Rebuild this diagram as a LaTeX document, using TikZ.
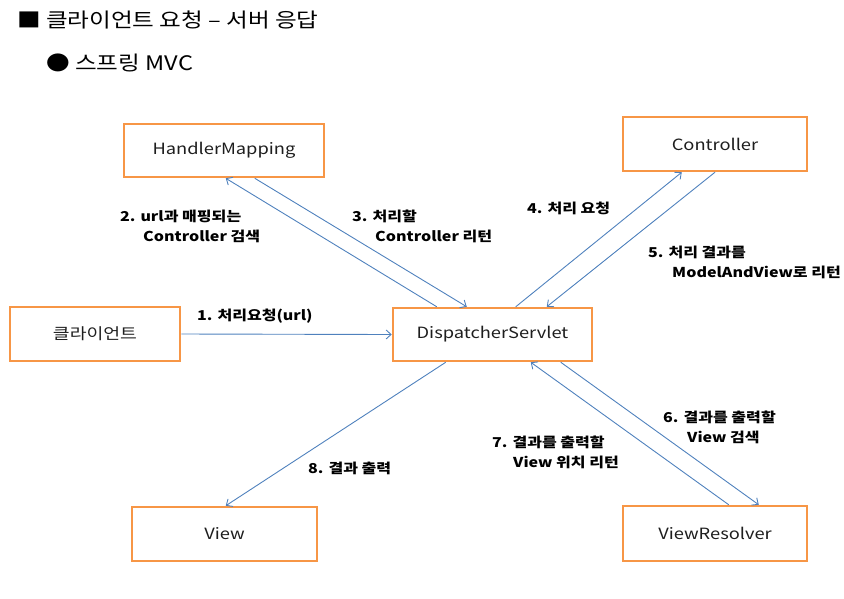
\documentclass[tikz,border=0pt]{standalone}
\usepackage{fontspec}
\setmainfont{Noto Sans CJK KR}[FakeStretch=1.18]
\usetikzlibrary{arrows.meta}
\definecolor{boxorange}{RGB}{247,150,70}
\definecolor{arrowblue}{RGB}{79,129,189}
\definecolor{boxtext}{RGB}{30,30,30}
\begin{document}
\begin{tikzpicture}[x=1pt,y=-1pt,
  box/.style={draw=boxorange, line width=2.5pt, fill=white, text=boxtext,
    font=\fontsize{15.5}{18}\selectfont, inner sep=0pt},
  flow/.style={draw=arrowblue, line width=0.9pt, -{Straight Barb[length=5pt,width=9pt]}},
  lbl/.style={font=\bfseries\fontsize{13.6}{20}\selectfont, align=left, inner sep=0pt, anchor=west},
  title/.style={font=\fontsize{20}{24}\selectfont, inner sep=0pt, anchor=west}]
\useasboundingbox (0,0) rectangle (844,598);

\node[title] (t1) at (17,20) {■ 클라이언트 요청 – 서버 응답};
\node[title] (t2) at (46,63) {● 스프링 MVC};

\node[box, minimum width=200pt, minimum height=53pt] (hm) at (224,150.5) {HandlerMapping};
\node[box, minimum width=184pt, minimum height=54pt] (ctrl) at (715,144) {Controller};
\node[box, minimum width=170pt, minimum height=54pt] (cl) at (95,334) {클라이언트};
\node[box, minimum width=199pt, minimum height=53pt] (ds) at (492.5,334.5) {DispatcherServlet};
\node[box, minimum width=185pt, minimum height=54pt] (view) at (224.5,534) {View};
\node[box, minimum width=184pt, minimum height=55pt] (vr) at (715,533.5) {ViewResolver};

\draw[flow] (cl.east) -- (ds.west);
\draw[flow] ([xshift=45pt]ds.north west) -- ([xshift=103pt]hm.south west);
\draw[flow] ([xshift=132pt]hm.south west) -- ([xshift=75pt]ds.north west);
\draw[flow] ([xshift=124pt]ds.north west) -- ([xshift=60pt]ctrl.south west);
\draw[flow] (ctrl.south) -- ([xshift=155pt]ds.north west);
\draw[flow] ([xshift=169pt]ds.south west) -- ([xshift=137pt]vr.north west);
\draw[flow] ([xshift=107pt]vr.north west) -- ([xshift=139pt]ds.south west);
\draw[flow] ([xshift=54pt]ds.south west) -- ([xshift=95pt]view.north west);

\node[lbl] (l1) at (197,316) {1. 처리요청(url)};
\node[lbl] (l2) at (120,226) {2. url과 매핑되는\\\hspace*{23pt}Controller 검색};
\node[lbl] (l3) at (352,226) {3. 처리할\\\hspace*{23pt}Controller 리턴};
\node[lbl] (l4) at (527,208) {4. 처리 요청};
\node[lbl] (l5) at (648,262) {5. 처리 결과를\\\hspace*{24pt}ModelAndView로 리턴};
\node[lbl] (l6) at (663,427) {6. 결과를 출력할\\\hspace*{24pt}View 검색};
\node[lbl] (l7) at (492,452) {7. 결과를 출력할\\\hspace*{21pt}View 위치 리턴};
\node[lbl] (l8) at (308,468) {8. 결과 출력};
\end{tikzpicture}
\end{document}
